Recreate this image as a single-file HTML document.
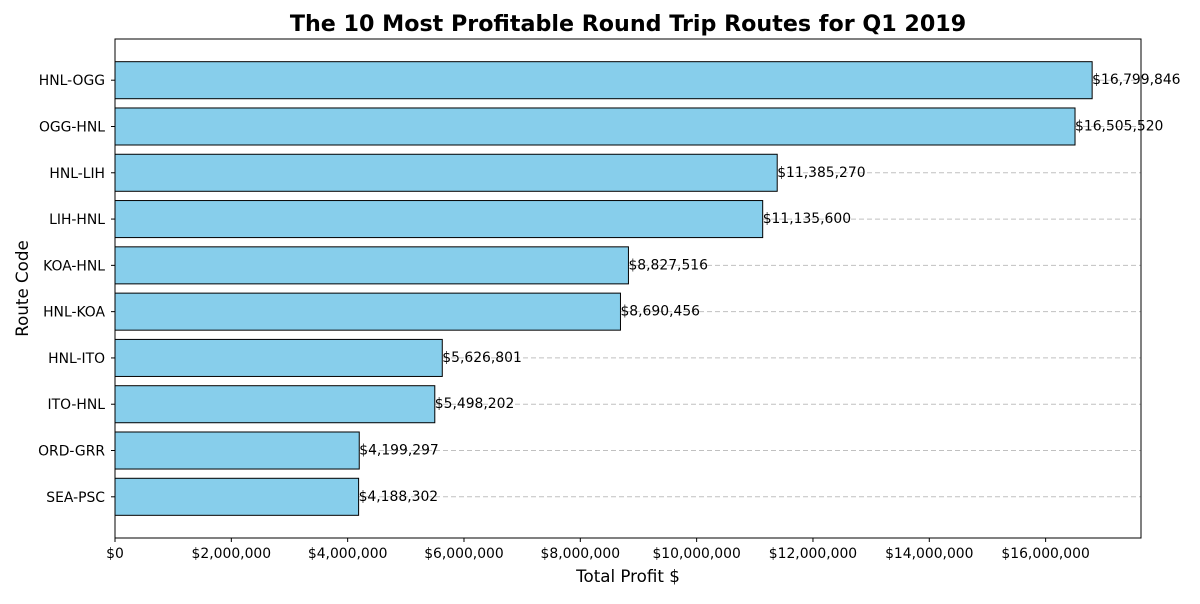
<!DOCTYPE html>
<html><head><meta charset="utf-8"><style>
body{margin:0;background:#fff;font-family:"DejaVu Sans","Liberation Sans",sans-serif;}
</style></head><body>
<svg id="chart" width="1200" height="600" xmlns="http://www.w3.org/2000/svg" font-family="DejaVu Sans, Liberation Sans, sans-serif"></svg>
<script>
const routes=["HNL-OGG","OGG-HNL","HNL-LIH","LIH-HNL","KOA-HNL","HNL-KOA","HNL-ITO","ITO-HNL","ORD-GRR","SEA-PSC"];
const profits=[16799846,16505520,11385270,11135600,8827516,8690456,5626801,5498202,4199297,4188302];
const xTicks=[0,2000000,4000000,6000000,8000000,10000000,12000000,14000000,16000000];
const L=115,R=1141,T=39,B=538;
const xmax=Math.max(...profits)*1.05;
const x=v=>L+v/xmax*(R-L);
const n=routes.length;
const lo=-0.4-0.05*(n-0.2), hi=n-1+0.4+0.05*(n-0.2);
const y=i=>T+(i-lo)/(hi-lo)*(B-T);
const unit=(B-T)/(hi-lo);
const svg=document.getElementById('chart');
const NS="http://www.w3.org/2000/svg";
function mk(tag,attrs,txt){const e=document.createElementNS(NS,tag);for(const k in attrs)e.setAttribute(k,attrs[k]);if(txt!==undefined)e.textContent=txt;svg.appendChild(e);return e;}
const fmt=v=>'$'+v.toLocaleString('en-US');
routes.forEach((r,i)=>{
  const g=mk('line',{x1:L,x2:R,y1:y(i),y2:y(i),stroke:'#c0c0c0','stroke-dasharray':'5,3','stroke-width':1});
  
  
});
routes.forEach((r,i)=>{
  const h=unit*0.8;
  const b=mk('rect',{x:L,y:y(i)-h/2,width:x(profits[i])-L,height:h,fill:'#87ceeb',stroke:'#000','stroke-width':1});
  
  
  const t=mk('text',{x:x(profits[i]),y:y(i)+4,'font-size':13.9,fill:'#000'},fmt(profits[i]));
  
  
  const tl=mk('text',{x:L-10,y:y(i)+5,'font-size':13.9,'text-anchor':'end'},r);
  
  
  mk('line',{x1:L-4,x2:L,y1:y(i),y2:y(i),stroke:'#000'});
});
xTicks.forEach(v=>{
  mk('line',{x1:x(v),x2:x(v),y1:B,y2:B+4,stroke:'#000'});
  const t=mk('text',{x:x(v),y:B+20,'font-size':13.9,'text-anchor':'middle'},fmt(v));
  
  
});
const f=mk('rect',{x:L,y:T,width:R-L,height:B-T,fill:'none',stroke:'#000','stroke-width':1});


const ti=mk('text',{x:(L+R)/2,y:31,'font-size':22.2,'font-weight':'bold','text-anchor':'middle'},'The 10 Most Profitable Round Trip Routes for Q1 2019');


const xl=mk('text',{x:(L+R)/2,y:582,'font-size':16.7,'text-anchor':'middle'},'Total Profit $');


const yl=mk('text',{x:28,y:(T+B)/2,'font-size':16.7,'text-anchor':'middle',transform:'rotate(-90 28 '+((T+B)/2)+')'},'Route Code');


</script>
</body></html>
